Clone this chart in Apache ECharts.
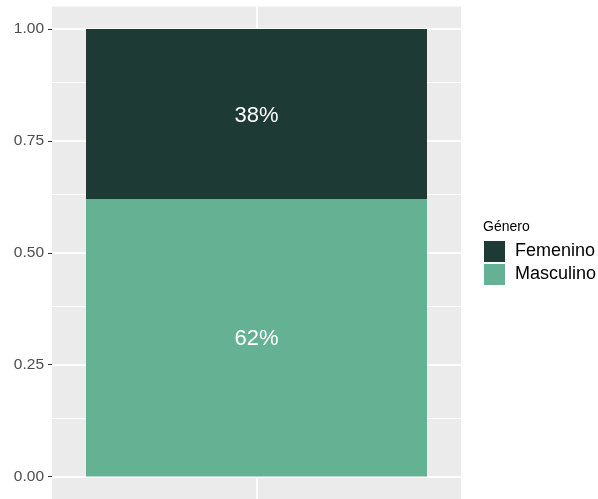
<!DOCTYPE html>
<html>
<head>
<meta charset="utf-8">
<script src="https://cdn.jsdelivr.net/npm/echarts@6/dist/echarts.min.js"></script>
<style>
  html, body { margin: 0; padding: 0; background: #fff; }
  #chart { width: 598px; height: 499px; }
</style>
</head>
<body>
<div id="chart"></div>
<script>
// datos
var categorias = ['Total'];
var masculino = [0.62];
var femenino = [0.38];
var ticksY = [0, 0.25, 0.5, 0.75, 1];
var ticksMenores = [0.125, 0.375, 0.625, 0.875];

var fuente = 'Liberation Sans, Arial, sans-serif';
var chart = echarts.init(document.getElementById('chart'));

function lineaH(v, w) {
    return { yAxis: v, lineStyle: { color: '#fff', width: w, type: 'solid' } };
}

var rejilla = ticksMenores.map(function (v) { return lineaH(v, 1); })
    .concat(ticksY.map(function (v) { return lineaH(v, 2); }))
    .concat([{ xAxis: 0, lineStyle: { color: '#fff', width: 2, type: 'solid' } }]);

var etiqueta = {
    show: true, position: 'inside', color: '#fff', fontSize: 22, fontFamily: fuente,
    offset: [0, 1.5],
    formatter: function (p) { return Math.round(p.value * 100) + '%'; }
};

var option = {
    animation: false,
    backgroundColor: '#fff',
    textStyle: { fontFamily: fuente },
    grid: {
        left: 52, top: 6.6, width: 409, height: 492.8,
        show: true, backgroundColor: '#EBEBEB', borderWidth: 0
    },
    legend: {
        orient: 'vertical',
        left: 484, top: 241, padding: 0,
        itemWidth: 21, itemHeight: 21, itemGap: 2,
        icon: 'rect',
        data: ['Femenino', 'Masculino'],
        textStyle: { fontSize: 18, color: '#000', fontFamily: fuente, padding: [0, 0, 0, 5] }
    },
    graphic: [{
        type: 'text', left: 483, top: 220,
        style: { text: 'Género', fontSize: 14, fill: '#000', fontFamily: fuente }
    }],
    xAxis: {
        type: 'category',
        data: categorias,
        axisLine: { show: false },
        axisTick: { show: false },
        axisLabel: { show: false },
        splitLine: { show: false }
    },
    yAxis: {
        type: 'value',
        min: -0.05, max: 1.05,
        axisLine: { show: false },
        splitLine: { show: false },
        axisTick: {
            show: true, length: 4, customValues: ticksY,
            lineStyle: { color: '#333', width: 1 }
        },
        axisLabel: {
            customValues: ticksY, margin: 8,
            fontSize: 15.5, color: '#4D4D4D', fontFamily: fuente,
            formatter: function (v) { return v.toFixed(2); }
        }
    },
    series: [
        {
            name: 'rejilla', type: 'line', data: [], zlevel: 0, silent: true,
            markLine: { silent: true, symbol: 'none', label: { show: false }, data: rejilla }
        },
        {
            name: 'Masculino', type: 'bar', stack: 'g', data: masculino, zlevel: 1,
            barWidth: 341,
            itemStyle: { color: '#65B194' },
            label: etiqueta
        },
        {
            name: 'Femenino', type: 'bar', stack: 'g', data: femenino, zlevel: 1,
            barWidth: 341,
            itemStyle: { color: '#1E3A34' },
            label: etiqueta
        }
    ]
};
chart.setOption(option);
</script>
</body>
</html>
